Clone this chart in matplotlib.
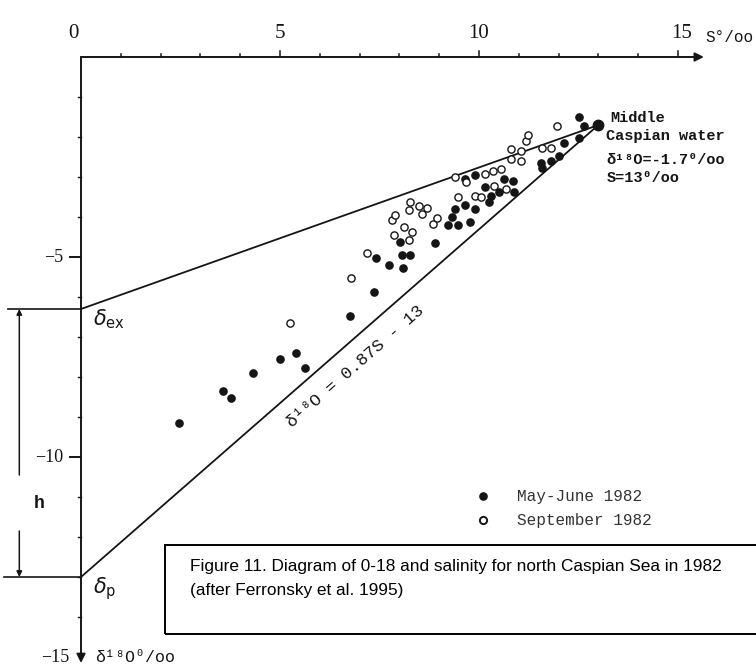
import matplotlib
matplotlib.use('Agg')
from matplotlib import pyplot as plt
from matplotlib.patches import Rectangle

# salinity S (o/oo) and delta-18O (o/oo)
may_s = [2.47, 3.58, 3.78, 4.33, 4.99, 5.39, 5.64, 6.75, 7.36, 7.41, 7.73, 8.09,
         8.01, 8.06, 8.26, 8.89, 9.22, 9.47, 9.77, 9.32, 9.40, 9.90, 9.65, 10.25,
         10.30, 10.50, 10.88, 10.15, 10.63, 10.86, 9.65, 9.90, 11.59, 11.56, 11.81,
         12.02, 12.14, 12.52, 12.64, 12.52]
may_d = [-9.15, -8.35, -8.53, -7.90, -7.55, -7.40, -7.78, -6.48, -5.88, -5.03, -5.20, -5.28,
         -4.63, -4.95, -4.95, -4.65, -4.20, -4.20, -4.13, -4.00, -3.80, -3.80, -3.70, -3.63,
         -3.48, -3.38, -3.38, -3.25, -3.05, -3.10, -3.05, -2.95, -2.78, -2.65, -2.60,
         -2.48, -2.15, -2.03, -1.73, -1.50]
sep_s = [5.24, 6.78, 7.18, 8.24, 7.86, 8.31, 8.11, 7.81, 7.88, 8.84, 8.94, 8.56,
         8.24, 8.69, 8.49, 8.26, 9.47, 9.90, 10.05, 10.68, 10.38, 9.40, 9.67, 10.15,
         10.35, 10.55, 10.81, 11.06, 10.81, 11.06, 11.59, 11.81, 11.18, 11.23, 11.96]
sep_d = [-6.65, -5.53, -4.90, -4.58, -4.45, -4.38, -4.25, -4.08, -3.95, -4.18, -4.03, -3.93,
         -3.83, -3.78, -3.73, -3.63, -3.50, -3.48, -3.50, -3.30, -3.23, -3.00, -3.13, -2.93,
         -2.85, -2.80, -2.55, -2.60, -2.30, -2.35, -2.28, -2.28, -2.10, -1.95, -1.73]

mcw_s, mcw_d = 13.0, -1.7   # Middle Caspian water
d_ex, d_p = -6.3, -13.0     # end members on the delta axis

ink = '#151515'
mono = ['Liberation Mono', 'DejaVu Sans Mono']
serif = ['Liberation Serif', 'DejaVu Serif']

fig = plt.figure(figsize=(7.56, 6.68), dpi=100)
ax = fig.add_axes([0, 0, 1, 1])
ax.set_xlim(-81 / 39.8, (756 - 81) / 39.8)
ax.set_ylim(-(668 - 57) / 40, 57 / 40)
ax.axis('off')

# axes with arrows
arr = dict(arrowstyle='-|>', lw=1.4, color=ink, mutation_scale=13, shrinkA=0, shrinkB=0)
ax.annotate('', xy=(15.65, 0), xytext=(0, 0), arrowprops=arr)
ax.annotate('', xy=(0, -15.15), xytext=(0, 0), arrowprops=arr)
for s in range(1, 16):
    h = 0.14 if s % 5 == 0 else 0.07
    ax.plot([s, s], [0, h], color=ink, lw=1.1)
for d in range(-1, -15, -1):
    w = 0.28 if d % 5 == 0 else 0.07
    ax.plot([-w, 0], [d, d], color=ink, lw=1.4 if d % 5 == 0 else 1.0)

for s, lab in zip([0, 5, 10, 15], ['0', '5', '10', '15']):
    ax.text(s - (0.2 if s == 0 else 0) + (0.1 if s == 15 else 0), 0.35, lab,
            ha='center', va='bottom', fontsize=15, family=serif, color=ink)
ax.text(15.7, 0.5, 'S°/oo', ha='left', va='center', fontsize=11.5, family=mono, color=ink)
for d, lab in zip([-5, -10, -15], ['−5', '−10', '−15']):
    ax.text(-0.45 if d != -15 else -0.3, d, lab, ha='right', va='center',
            fontsize=13, family=serif, color=ink)
ax.text(0.35, -15.0, 'δ¹⁸O⁰/oo', ha='left', va='center', fontsize=12, family=mono, color=ink)

# evaporation and mixing lines
ax.plot([0, mcw_s], [d_ex, mcw_d], color=ink, lw=1.3)
ax.plot([0, mcw_s], [d_p, mcw_d], color=ink, lw=1.3)
ax.plot([-1.84, 0], [d_ex, d_ex], color=ink, lw=1.2)
ax.plot([-1.94, 0], [d_p, d_p], color=ink, lw=1.2)
ax.text(0.3, d_ex - 0.25, r'$\delta_{\rm ex}$', ha='left', va='center', fontsize=15, color=ink)
ax.text(0.3, d_p - 0.3, r'$\delta_{\rm p}$', ha='left', va='center', fontsize=15, color=ink)

# h bracket
harr = dict(arrowstyle='-|>', lw=1.1, color=ink, mutation_scale=8, shrinkA=0, shrinkB=0)
ax.annotate('', xy=(-1.55, d_ex), xytext=(-1.55, -10.45), arrowprops=harr)
ax.annotate('', xy=(-1.55, d_p), xytext=(-1.55, -11.85), arrowprops=harr)
ax.text(-1.05, -11.15, 'h', ha='center', va='center', fontsize=13, family=mono,
        weight='bold', color=ink)

# data points
ax.plot(may_s, may_d, 'o', ms=5.2, color=ink, mec=ink)
ax.plot(sep_s, sep_d, 'o', ms=5.2, mfc='white', mec=ink, mew=1.0)
ax.plot([mcw_s], [mcw_d], 'o', ms=7.5, color=ink)

ax.text(6.9, -7.75, 'δ¹⁸O = 0.87S - 13', rotation=41.2, ha='center', va='center',
        rotation_mode='anchor', fontsize=12.5, family=mono, color=ink)

ax.text(13.3, -1.52, 'Middle', ha='left', va='center', fontsize=11, family=mono,
        weight='bold', color=ink)
ax.text(13.2, -1.97, 'Caspian water', ha='left', va='center', fontsize=11, family=mono,
        weight='bold', color=ink)
ax.text(13.2, -2.58, 'δ¹⁸O=-1.7⁰/oo', ha='left', va='center', fontsize=11, family=mono,
        weight='bold', color=ink)
ax.text(13.2, -3.03, 'S=13⁰/oo', ha='left', va='center', fontsize=11, family=mono,
        weight='bold', color=ink)

# legend
ax.plot([10.1], [-10.98], 'o', ms=5.2, color=ink)
ax.plot([10.1], [-11.58], 'o', ms=5.2, mfc='white', mec=ink, mew=1.4)
ax.text(10.95, -10.98, 'May-June 1982', ha='left', va='center', fontsize=11.5,
        family=mono, color='#333333')
ax.text(10.95, -11.58, 'September 1982', ha='left', va='center', fontsize=11.5,
        family=mono, color='#333333')

# caption box
fig.patches.append(Rectangle((165 / 756, 1 - 634 / 668), 600 / 756, 89 / 668,
                             transform=fig.transFigure, fill=False, lw=1.4, ec='black'))
cap = ['Liberation Sans', 'DejaVu Sans']
fig.text(190 / 756, 1 - 567 / 668, 'Figure 11. Diagram of 0-18 and salinity for north Caspian Sea in 1982',
         ha='left', va='center', fontsize=12.4, family=cap)
fig.text(190 / 756, 1 - 591 / 668, '(after Ferronsky et al. 1995)',
         ha='left', va='center', fontsize=12.4, family=cap)

plt.savefig('out.png', dpi=100)
plt.close()
